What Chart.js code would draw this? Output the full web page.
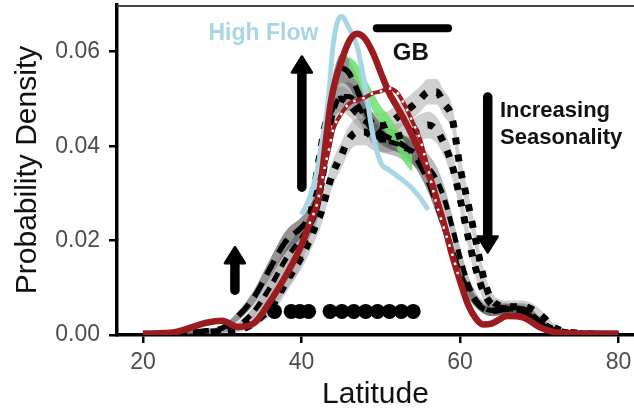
<!DOCTYPE html>
<html>
<head>
<meta charset="utf-8">
<script src="https://cdn.jsdelivr.net/npm/chart.js@4.4.1/dist/chart.umd.min.js"></script>
<style>
html,body{margin:0;padding:0;background:#fff;}
#wrap{width:634px;height:411px;}
</style>
</head>
<body>
<div id="wrap"><canvas id="c" width="634" height="411"></canvas></div>
<script>
// ---------- DATA ----------
const latitude = [20,24,28,30,32,34,36,38,40,41,42,42.5,43,43.5,44,45,46,47,48,49,50,51,52,53,54,55,56,57,58,59,60,61,62,63,64,66,68,70,72,76,80];
const xTicks = [20,40,60,80];
const yTicks = [0,0.02,0.04,0.06];

// thick dark red density
const redMain = [.0003,.0006,.0026,.0030,.0017,.0025,.0070,.0125,.0190,.0235,.0280,.0330,.0400,.0470,.0520,.0578,.0622,.0638,.0628,.0598,.0556,.0515,.0485,.0455,.0422,.0385,.0345,.0290,.0235,.0170,.0115,.0065,.0035,.0022,.0024,.0040,.0037,.0017,.0006,.0003,.0003];
// red line with white dots
const redDotted = [null,null,null,null,null,null,null,null,null,.0235,.0280,.0320,.0360,.0395,.0435,.0468,.0490,.0497,.0503,.0512,.0516,.0522,.0515,.0488,.0452,.0413,.0350,.0280,.0225,.0172,.0115,null,null,null,null,null,null,null,null,null,null];
// High Flow (light blue)
const highFlow = [null,null,null,null,null,null,null,null,.0255,.0290,.0350,.0400,.0450,.0520,.0615,.0675,.0650,.0612,.0530,.0425,.0365,.0350,.0338,.0325,.0310,.0290,.0265,null,null,null,null,null,null,null,null,null,null,null,null,null,null];

// black long-dashed series + dark ribbon
const k1 = [.0001,.0003,.0009,.0015,.0040,.0080,.0140,.0198,.0228,.0250,.0290,.0330,.0390,.0460,.0520,.0565,.0555,.0520,.0480,.0448,.0428,.0418,.0410,.0400,.0385,.0360,.0325,.0280,.0230,.0180,.0130,.0095,.0070,.0055,.0050,.0055,.0050,.0025,.0010,.0002,.0001];
const k1Lo = [0,.0001,.0005,.0010,.0030,.0065,.0120,.0175,.0205,.0228,.0265,.0300,.0360,.0430,.0490,.0535,.0525,.0490,.0455,.0425,.0405,.0395,.0388,.0378,.0362,.0337,.0302,.0258,.0210,.0160,.0112,.0080,.0058,.0045,.0040,.0045,.0040,.0018,.0006,0,0];
const k1Hi = [.0002,.0005,.0013,.0020,.0050,.0095,.0160,.0220,.0250,.0272,.0315,.0360,.0420,.0490,.0550,.0595,.0585,.0550,.0505,.0470,.0450,.0440,.0432,.0422,.0408,.0383,.0348,.0302,.0250,.0200,.0148,.0110,.0082,.0065,.0060,.0065,.0060,.0032,.0014,.0004,.0002];

// black medium-dashed series + mid ribbon
const k4 = [.0001,.0002,.0006,.0010,.0020,.0050,.0100,.0160,.0205,.0230,.0270,.0310,.0360,.0420,.0470,.0505,.0505,.0490,.0460,.0430,.0415,.0410,.0405,.0395,.0390,.0375,.0355,.0330,.0290,.0230,.0165,.0110,.0075,.0058,.0052,.0055,.0055,.0030,.0010,.0002,.0001];
const k4Lo = [0,.0001,.0003,.0006,.0013,.0038,.0080,.0138,.0180,.0205,.0243,.0280,.0330,.0392,.0440,.0475,.0475,.0460,.0432,.0403,.0388,.0383,.0378,.0368,.0362,.0347,.0327,.0302,.0263,.0205,.0143,.0092,.0060,.0045,.0040,.0043,.0043,.0020,.0005,0,0];
const k4Hi = [.0002,.0003,.0009,.0014,.0027,.0062,.0120,.0182,.0230,.0255,.0297,.0340,.0390,.0448,.0500,.0535,.0535,.0520,.0488,.0457,.0442,.0437,.0432,.0422,.0418,.0403,.0383,.0358,.0317,.0255,.0187,.0128,.0090,.0071,.0064,.0067,.0067,.0040,.0015,.0004,.0002];

// black dotted series with right hump + light ribbon
const k2 = [.0001,.0002,.0005,.0008,.0015,.0030,.0055,.0110,.0175,.0240,.0350,.0400,.0445,.0468,.0485,.0500,.0490,.0470,.0455,.0445,.0443,.0448,.0460,.0472,.0485,.0500,.0515,.0515,.0490,.0460,.0356,.0280,.0200,.0120,.0075,.0060,.0060,.0045,.0015,.0003,.0001];
const k2Lo = [0,.0001,.0002,.0004,.0009,.0020,.0040,.0088,.0150,.0212,.0318,.0368,.0415,.0440,.0458,.0473,.0463,.0443,.0428,.0418,.0416,.0421,.0433,.0445,.0458,.0473,.0488,.0488,.0463,.0433,.0328,.0255,.0178,.0102,.0060,.0047,.0047,.0034,.0008,0,0];
const k2Hi = [.0002,.0004,.0008,.0012,.0021,.0040,.0070,.0132,.0200,.0268,.0382,.0432,.0475,.0496,.0512,.0527,.0517,.0497,.0482,.0472,.0470,.0475,.0487,.0499,.0512,.0527,.0542,.0542,.0517,.0487,.0384,.0305,.0222,.0138,.0090,.0073,.0073,.0056,.0022,.0006,.0002];

// black dotted lower series + light ribbon
const k3 = [.0001,.0002,.0004,.0006,.0010,.0025,.0060,.0115,.0165,.0200,.0240,.0260,.0290,.0320,.0345,.0380,.0415,.0430,.0430,.0420,.0415,.0415,.0420,.0425,.0430,.0440,.0445,.0435,.0405,.0360,.0290,.0210,.0140,.0090,.0065,.0055,.0052,.0028,.0010,.0002,.0001];
const k3Lo = [0,.0001,.0002,.0003,.0006,.0017,.0045,.0095,.0140,.0173,.0212,.0232,.0262,.0292,.0317,.0352,.0387,.0402,.0402,.0392,.0387,.0387,.0392,.0397,.0402,.0412,.0417,.0407,.0377,.0332,.0265,.0188,.0120,.0073,.0050,.0042,.0040,.0018,.0004,0,0];
const k3Hi = [.0002,.0003,.0006,.0009,.0014,.0033,.0075,.0135,.0190,.0227,.0268,.0288,.0318,.0348,.0373,.0408,.0443,.0458,.0458,.0448,.0443,.0443,.0448,.0453,.0458,.0468,.0473,.0463,.0433,.0388,.0315,.0232,.0160,.0107,.0080,.0068,.0064,.0038,.0016,.0004,.0002];

// green band
const greenLo = [null,null,null,null,null,null,null,null,null,null,null,null,null,null,null,null,.0555,.0535,.0505,.0475,.0445,.0420,.0395,.0365,.0345,null,null,null,null,null,null,null,null,null,null,null,null,null,null,null,null];
const greenHi = [null,null,null,null,null,null,null,null,null,null,null,null,null,null,null,null,.0590,.0575,.0545,.0515,.0485,.0465,.0440,.0410,.0380,null,null,null,null,null,null,null,null,null,null,null,null,null,null,null,null];

// site dots along the bottom
const dotLatitudes = [36.6,38.7,39.8,40.9,43.6,45.1,46.6,48.1,49.6,51.1,52.6,54.1];
const dotLevel = 0.005;

// annotations (data coordinates)
const arrows = [
  {lat:40.05, from:0.0313, to:0.0590},
  {lat:31.6,  from:0.0095, to:0.0186},
  {lat:63.5,  from:0.0504, to:0.0175}
];
const gbBar = {from:49.5, to:58.5, level:0.065};
const notes = [
  {text:'High Flow',   lat:35.2,  dens:0.0638, align:'center', color:'#a9d6e5', size:23},
  {text:'GB',          lat:53.8,  dens:0.0596, align:'center', color:'#111111', size:24},
  {text:'Increasing',  lat:65.05, dens:0.0474, align:'left',   color:'#111111', size:22},
  {text:'Seasonality', lat:65.05, dens:0.0417, align:'left',   color:'#111111', size:22}
];

// ---------- CHART ----------
const FAM = '"Liberation Sans", Arial, Helvetica, sans-serif';
const pts = arr => latitude.map((x,i)=>({x:x, y:arr[i]}));
const datasets = [];
function add(ds){
  datasets.push(Object.assign({pointRadius:0, cubicInterpolationMode:'monotone', fill:false}, ds));
  return datasets.length-1;
}
function ribbon(lo, hi, color, order){
  const iHi = add({data:pts(hi), borderWidth:0, borderColor:'rgba(0,0,0,0)', order:order});
  add({data:pts(lo), borderWidth:0, borderColor:'rgba(0,0,0,0)', fill:{target:iHi}, backgroundColor:color, order:order});
}
ribbon(k2Lo, k2Hi, 'rgba(150,150,150,0.45)', 90);
ribbon(k3Lo, k3Hi, 'rgba(150,150,150,0.45)', 89);
ribbon(k4Lo, k4Hi, 'rgba(105,105,105,0.45)', 85);
ribbon(k1Lo, k1Hi, 'rgba(60,60,60,0.55)', 80);
ribbon(greenLo, greenHi, 'rgba(110,225,110,0.85)', 75);

add({data:dotLatitudes.map(v=>({x:v, y:dotLevel})), showLine:false, pointRadius:7.5, pointBackgroundColor:'#000', pointBorderWidth:0, order:60});

add({data:pts(k3), borderColor:'#000', borderWidth:7, borderDash:[7,10], order:40});
add({data:pts(k2), borderColor:'#000', borderWidth:7, borderDash:[7,10], order:39});
add({data:pts(k4), borderColor:'#000', borderWidth:5, borderDash:[10,7], order:38});
add({data:pts(k1), borderColor:'#000', borderWidth:5.5, borderDash:[16,9], order:37});
add({data:pts(highFlow), borderColor:'#a9d6e5', borderWidth:5, order:30});
add({data:pts(redMain), borderColor:'#9b1b1f', borderWidth:6.5, order:20});
add({data:pts(redDotted), borderColor:'#9b1b1f', borderWidth:4, order:15});
add({data:pts(redDotted), borderColor:'#ffffff', borderWidth:2.5, borderDash:[2.5,7], order:10});

const annot = {
  id:'annot',
  afterDatasetsDraw(chart){
    const ctx = chart.ctx, xs = chart.scales.x, ys = chart.scales.y, ca = chart.chartArea;
    ctx.save();
    // top frame line
    ctx.strokeStyle = '#444'; ctx.lineWidth = 2;
    ctx.beginPath(); ctx.moveTo(ca.left, ca.top+1); ctx.lineTo(ca.right, ca.top+1); ctx.stroke();
    // GB bar
    ctx.strokeStyle = '#000'; ctx.lineCap = 'round'; ctx.lineWidth = 8;
    const gy = ys.getPixelForValue(gbBar.level);
    ctx.beginPath(); ctx.moveTo(xs.getPixelForValue(gbBar.from), gy); ctx.lineTo(xs.getPixelForValue(gbBar.to), gy); ctx.stroke();
    // arrows
    arrows.forEach(a=>{
      const px = xs.getPixelForValue(a.lat);
      const y0 = ys.getPixelForValue(a.from), y1 = ys.getPixelForValue(a.to);
      const dir = y1 < y0 ? -1 : 1;
      const headLen = 16, headHalf = 10;
      const baseY = y1 - dir*headLen;
      ctx.fillStyle = '#000'; ctx.strokeStyle = '#000';
      ctx.lineCap = 'round'; ctx.lineWidth = 9.5;
      ctx.beginPath(); ctx.moveTo(px, y0); ctx.lineTo(px, baseY); ctx.stroke();
      ctx.lineJoin = 'round'; ctx.lineWidth = 2.5;
      ctx.beginPath(); ctx.moveTo(px, y1); ctx.lineTo(px-headHalf, baseY); ctx.lineTo(px+headHalf, baseY); ctx.closePath();
      ctx.fill(); ctx.stroke();
    });
    // text notes
    ctx.textBaseline = 'middle';
    notes.forEach(n=>{
      ctx.font = 'bold ' + n.size + 'px ' + FAM;
      ctx.fillStyle = n.color; ctx.textAlign = n.align;
      ctx.fillText(n.text, xs.getPixelForValue(n.lat), ys.getPixelForValue(n.dens));
    });
    ctx.restore();
  }
};

new Chart(document.getElementById('c'), {
  type:'line',
  data:{datasets:datasets},
  plugins:[annot],
  options:{
    responsive:false, animation:false, devicePixelRatio:1, events:[],
    layout:{autoPadding:false, padding:{top:5, right:0, left:0, bottom:0}},
    plugins:{legend:{display:false}, tooltip:{enabled:false}},
    scales:{
      x:{
        type:'linear', min:16.72, max:81.96,
        afterBuildTicks: s => { s.ticks = xTicks.map(v=>({value:v})); },
        afterFit: s => { s.height = 76; s.paddingLeft = 0; s.paddingRight = 0; },
        grid:{display:true, drawOnChartArea:false, drawTicks:true, tickLength:8, color:'#000', lineWidth:2.5},
        border:{display:true, color:'#000', width:3.5},
        ticks:{color:'#4d4d4d', font:{size:23, family:FAM}, padding:6, maxRotation:0, autoSkip:false},
        title:{display:true, text:'Latitude', color:'#111', font:{size:30, family:FAM, lineHeight:1}, padding:{top:0, bottom:1}}
      },
      y:{
        type:'linear', min:0, max:0.0699,
        afterBuildTicks: s => { s.ticks = yTicks.map(v=>({value:v})); },
        afterFit: s => { s.width = 117; s.paddingTop = 0; s.paddingBottom = 0; },
        grid:{display:true, drawOnChartArea:false, drawTicks:true, tickLength:8, color:'#000', lineWidth:2.5},
        border:{display:true, color:'#000', width:3.5},
        ticks:{color:'#4d4d4d', font:{size:23, family:FAM}, padding:9, callback:v=>Number(v).toFixed(2)},
        title:{display:true, text:'Probability Density', color:'#111', font:{size:30, family:FAM, lineHeight:1}, padding:{top:13, bottom:0}}
      }
    }
  }
});
</script>
</body>
</html>
